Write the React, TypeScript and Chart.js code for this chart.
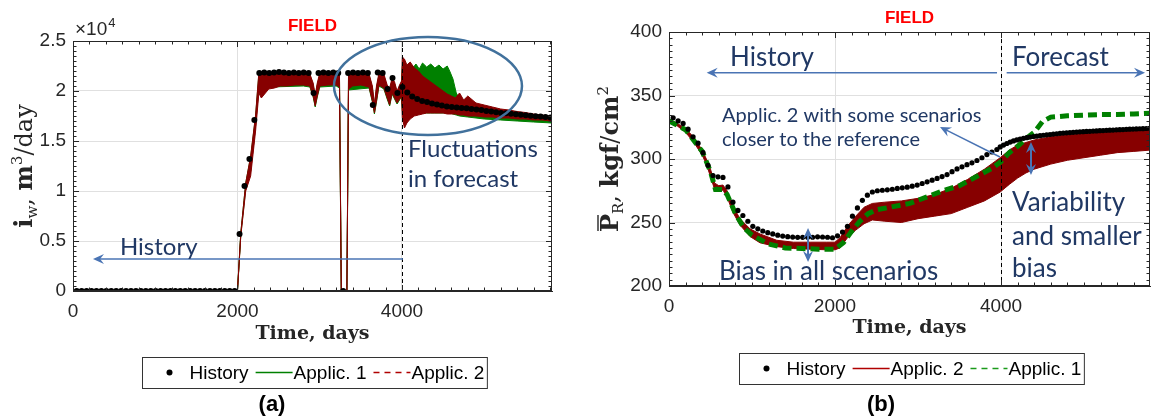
import React, { useEffect, useRef } from "react";
import { Chart, registerables } from "chart.js";

Chart.register(...registerables);

// ================= Panel (a): water injection rate (m3/day) =================
const A_X_TICKS = [0, 2000, 4000];
const A_X_LABELS = ["0", "2000", "4000"];
const A_Y_TICKS = [0, 5000, 10000, 15000, 20000, 25000];
const A_Y_LABELS = ["0", "0.5", "1", "1.5", "2", "2.5"];

const A_HIST_T = [
  45, 105, 165, 225, 285, 345, 405, 465, 525, 585, 645, 705, 765, 825, 885, 945, 1005, 1065, 1125, 1185,
  1245, 1305, 1365, 1425, 1485, 1545, 1605, 1665, 1725, 1785, 1845, 1905, 1965,
  2025, 2085, 2145, 2205, 2265,
  2325, 2385, 2445, 2505, 2565, 2625, 2685, 2745, 2805, 2865,
  2925,
  2985, 3045, 3105, 3165, 3225,
  3285,
  3345, 3405, 3465, 3525, 3585,
  3645,
  3705, 3765, 3825, 3885, 3945,
  4005, 4065, 4125, 4185, 4245, 4305, 4365, 4425, 4485, 4545, 4605, 4665, 4725, 4785, 4845, 4905, 4965,
  5025, 5085, 5145, 5205, 5265, 5325, 5385, 5445, 5505, 5565, 5625, 5685, 5745, 5805,
];
const A_HIST_V = [
  0, 0, 0, 0, 0, 0, 0, 0, 0, 0, 0, 0, 0, 0, 0, 0, 0, 0, 0, 0,
  0, 0, 0, 0, 0, 0, 0, 0, 0, 0, 0, 0, 0,
  5700, 10500, 13200, 17100, 21800,
  21850, 21800, 21850, 21900, 21850, 21800, 21850, 21800, 21850, 21800,
  19800,
  21800, 21850, 21800, 21850, 21800,
  0,
  21800, 21850, 21800, 21850, 21800,
  18600,
  21850, 21800, 20200, 21300, 19800,
  20400, 19850, 19450, 19200, 19000, 18900, 18750, 18650, 18550, 18450, 18400, 18350, 18300, 18270, 18200, 18150, 18100,
  18000, 17950, 17870, 17800, 17770, 17720, 17670, 17620, 17570, 17520, 17480, 17440, 17400, 17360,
];

// Applic. 2 (red) ensemble envelope
const A_APP2_T = [
  0, 1990, 2000, 2040, 2100, 2160, 2220, 2260, 2290, 2320, 2380, 2450, 2520, 2600, 2700, 2800, 2880, 2920, 2945, 2970,
  3000, 3100, 3200, 3240, 3262, 3330, 3350, 3400, 3500, 3600, 3640, 3665, 3690, 3720, 3780, 3820, 3850, 3880, 3910, 3940,
  3970, 3995, 4005, 4030, 4060, 4100, 4150, 4200, 4250, 4300, 4350, 4400, 4450, 4500, 4550, 4600, 4650, 4700, 4750, 4800,
  4900, 5000, 5100, 5200, 5300, 5400, 5500, 5600, 5700, 5824,
];
const A_APP2_HI = [
  0, 0, 100, 5800, 10800, 13500, 17600, 21900, 21900, 21900, 21900, 21800, 21900, 21800, 21900, 21800, 21700, 20800, 19600, 20800,
  21800, 21800, 21800, 21700, 0, 0, 21800, 21800, 21800, 21700, 20500, 18700, 20500, 21800, 21700, 20600, 20300, 21300, 20900, 20000,
  20600, 21000, 23400, 23200, 22600, 22900, 22300, 22000, 21500, 21200, 20900, 20600, 20300, 20000, 19700, 19500, 19300, 19800, 19100, 19500,
  18800, 18600, 18400, 18200, 18100, 17950, 17850, 17700, 17600, 17450,
];
const A_APP2_LO = [
  0, 0, 0, 5500, 10000, 11500, 16000, 19800, 19300, 19600, 20200, 20300, 20500, 20500, 20600, 20600, 20500, 19500, 18500, 19500,
  20500, 20600, 20600, 20400, 0, 0, 20200, 20500, 20600, 20400, 19000, 17800, 19000, 20600, 20300, 19300, 18600, 19800, 19300, 18800,
  19200, 19500, 17300, 16300, 16800, 17200, 17500, 17600, 17700, 17800, 17800, 17800, 17800, 17800, 17700, 17700, 17700, 17600, 17600, 17500,
  17500, 17400, 17400, 17300, 17300, 17200, 17200, 17100, 17100, 17000,
];

// Applic. 1 (green) ensemble envelope
const A_APP1_T = [
  0, 1990, 2000, 2040, 2100, 2160, 2220, 2260, 2400, 2800,
  2880, 2920, 2945, 2970, 3000, 3200, 3240, 3262, 3330, 3350,
  3600, 3640, 3665, 3690, 3720, 3780, 3820, 3850, 3880, 3910,
  3940, 3970, 3990, 4005, 4100, 4130, 4170, 4210, 4250, 4300,
  4350, 4400, 4450, 4500, 4550, 4580, 4620, 4660, 4700, 4800,
  4900, 5000, 5200, 5400, 5600, 5824,
];
const A_APP1_HI = [
  0, 0, 100, 5800, 10800, 13400, 17500, 21700, 21700, 21600,
  21600, 20600, 19400, 20600, 21600, 21600, 21600, 0, 0, 21600,
  21600, 20300, 18500, 20300, 21600, 21500, 20400, 20100, 21100, 20700,
  19800, 20400, 20500, 22500, 22000, 22300, 22700, 22200, 22800, 22400,
  22700, 22300, 22600, 22200, 22500, 22000, 21200, 19800, 19200, 18700,
  18400, 18200, 17900, 17700, 17500, 17350,
];
const A_APP1_LO = [
  0, 0, 0, 5600, 10200, 12000, 16500, 20400, 20400, 20500,
  20400, 19400, 18400, 19400, 20400, 20500, 20300, 0, 0, 20100,
  20300, 18900, 17700, 18900, 20500, 20200, 19200, 18500, 19700, 19200,
  18700, 19100, 19400, 18000, 17800, 17800, 17800, 17800, 17800, 17800,
  17800, 17800, 17800, 17800, 17800, 17800, 17700, 17600, 17500, 17400,
  17300, 17200, 17100, 17000, 16900, 16800,
];

// ================= Panel (b): average reservoir pressure (kgf/cm2) =================
const B_X_TICKS = [0, 2000, 4000];
const B_X_LABELS = ["0", "2000", "4000"];
const B_Y_TICKS = [200, 250, 300, 350, 400];
const B_Y_LABELS = ["200", "250", "300", "350", "400"];

const B_HIST_T = [
  50, 110, 170, 230, 290, 350, 410, 470, 530, 590, 650, 710, 770, 830, 890, 950, 1010, 1070, 1130, 1190,
  1250, 1310, 1370, 1430, 1490, 1550, 1610, 1670, 1730, 1790, 1850, 1910, 1970, 2030, 2090, 2150, 2210, 2270, 2330, 2390,
  2450, 2510, 2570, 2630, 2690, 2750, 2810, 2870, 2930, 2990, 3050, 3110, 3170, 3230, 3290, 3350, 3410, 3470, 3530, 3590,
  3650, 3710, 3770, 3830, 3890, 3950,
  3990, 4030, 4070, 4110, 4150, 4190, 4230, 4270, 4310, 4350, 4390, 4430, 4470, 4510, 4550, 4590, 4630, 4670, 4710, 4750,
  4790, 4830, 4870, 4910, 4950, 4990, 5030, 5070, 5110, 5150, 5190, 5230, 5270, 5310, 5350, 5390, 5430, 5470, 5510, 5550,
  5590, 5630, 5670, 5710, 5750, 5790,
];
const B_HIST_V = [
  332.5, 330, 328, 323.5, 317.5, 312.5, 305, 295, 287, 286, 285.5, 278, 266, 259.5, 255.5, 251, 247, 245, 243.3, 242,
  241, 240, 239.3, 238.8, 238.5, 238.3, 238.3, 238.3, 238.4, 238.7, 238.6, 238.4, 238, 239.5, 242.5, 247, 255, 261.5, 267.5, 271.5,
  274, 275, 275.4, 275.7, 276.2, 276.8, 277.3, 277.8, 278.6, 279.5, 280.7, 282, 283.3, 284.7, 286.2, 287.7, 290, 292.2, 293.8, 295.5,
  297, 298.8, 301, 303.5, 305.5, 307.5,
  309.5, 311, 312.2, 313.3, 314.2, 315, 315.7, 316.3, 316.8, 317.3, 317.7, 318, 318.4, 318.7, 319, 319.3, 319.6, 319.9, 320.2, 320.4,
  320.6, 320.8, 321, 321.2, 321.4, 321.5, 321.7, 321.8, 322, 322.1, 322.3, 322.4, 322.6, 322.7, 322.8, 323, 323.1, 323.2, 323.4, 323.5,
  323.6, 323.7, 323.8, 323.9, 324, 324.2,
];

// Applic. 2 (red) ensemble envelope
const B_APP2_T = [
  0, 100, 200, 300, 400, 450, 500, 550, 600, 650, 700, 770, 855, 976, 1096, 1298, 1500, 1700, 1900, 2000,
  2060, 2150, 2250, 2350, 2450, 2600, 2800, 3000, 3200, 3400, 3600, 3800, 3990, 4100, 4200, 4300, 4400, 4600, 4800, 5000,
  5200, 5400, 5600, 5795,
];
const B_APP2_HI = [
  331, 328, 324, 317, 307, 300, 292, 281, 279, 279.5, 275, 263, 253, 245, 241, 236, 234.5, 234.5, 234.5, 234.5,
  238, 247, 255, 262, 265, 266, 267, 269, 272, 277, 284, 292, 301, 307, 311, 313, 315, 317.5, 319, 320,
  321, 322, 323, 323.5,
];
const B_APP2_LO = [
  329, 326, 321, 313, 303, 296, 286, 276, 275, 275.5, 270, 258, 248, 239, 234, 231, 229.5, 229, 228.5, 228.5,
  230, 238, 244, 249, 252, 251, 250, 253, 255, 257, 262, 267, 274, 280, 285, 289, 292, 296, 299, 301,
  303, 305, 306, 307,
];

// Applic. 1 (green dashed)
const B_APP1_T = [
  0, 200, 400, 500, 560, 650, 700, 800, 900, 1000, 1200, 1400, 1600, 1800, 2000, 2100, 2200, 2300, 2400, 2500,
  2700, 2900, 3100, 3300, 3500, 3700, 3900, 4000, 4100, 4200, 4300, 4400, 4500, 4600, 4800, 5000, 5200, 5400, 5600, 5795,
];
const B_APP1_V = [
  330, 323, 306, 290, 276, 276, 272, 257, 246, 240, 233, 230, 229.5, 229, 229, 234, 243, 251, 257, 260,
  262.5, 265, 270, 275, 279, 286, 293, 298, 305, 310, 316, 321, 329.5, 333, 334, 334.5, 335, 335, 335.5, 336,
];

// ================= styles =================
const RED = "#870000";
const GREEN = "#008000";
const AXIS = "#262626";
const GRID = "#e0e0e0";
const NOTE_TEXT = "#203864";
const NOTE_LINE = "#4a74b4";
const ELLIPSE = "#41719c";
const SANS = '"Liberation Sans", Arial, sans-serif';
const SERIF = '"DejaVu Serif", serif';
const NOTE_FONT = 'Lato, "Open Sans", sans-serif';

type Pt = { x: number; y: number };
const zip = (t: number[], v: number[]): Pt[] => {
  const n = Math.min(t.length, v.length);
  const out: Pt[] = [];
  for (let i = 0; i < n; i++) out.push({ x: t[i], y: v[i] });
  return out;
};

type Run = { t: string; font: string; dy?: number; overline?: boolean };
type LegendItem = { label: string; kind: "dot" | "line"; color: string; dash?: number[]; width?: number };
type Note =
  | { type: "text"; x: number; y: number; text: string; font: string }
  | { type: "arrow"; x1: number; y1: number; x2: number; y2: number; both?: boolean; lw?: number }
  | { type: "ellipse"; x: number; y: number; rx: number; ry: number };

type PanelCfg = {
  padTop: number;
  padRight: number;
  yAxisW: number;
  xAxisH: number;
  xMax: number;
  yMin: number;
  yMax: number;
  xTicks: number[];
  xLabels: string[];
  yTicks: number[];
  yLabels: string[];
  xMinor: number;
  yMinor: number;
  split: number;
  titleDy: number;
  yTitle: Run[];
  yTitleDx: number;
  xTitleDy: number;
  exponent: boolean;
  legend: LegendItem[];
  legendDy: number;
  panelLabel: string;
  panelLabelDx: number;
  panelLabelY: number;
  notes: Note[];
  datasets: any[];
};

function head(ctx: CanvasRenderingContext2D, x: number, y: number, a: number) {
  const L = 11, W = 5;
  const c = Math.cos(a), s = Math.sin(a);
  ctx.beginPath();
  ctx.moveTo(x, y);
  ctx.lineTo(x - L * c - W * s, y - L * s + W * c);
  ctx.lineTo(x - 0.65 * L * c, y - 0.65 * L * s);
  ctx.lineTo(x - L * c + W * s, y - L * s - W * c);
  ctx.closePath();
  ctx.fill();
}

function drawArrow(ctx: CanvasRenderingContext2D, x1: number, y1: number, x2: number, y2: number, both: boolean, lw: number) {
  const a = Math.atan2(y2 - y1, x2 - x1);
  const k = 11 * 0.6;
  ctx.save();
  ctx.strokeStyle = NOTE_LINE;
  ctx.fillStyle = NOTE_LINE;
  ctx.lineWidth = lw;
  ctx.beginPath();
  ctx.moveTo(both ? x1 + Math.cos(a) * k : x1, both ? y1 + Math.sin(a) * k : y1);
  ctx.lineTo(x2 - Math.cos(a) * k, y2 - Math.sin(a) * k);
  ctx.stroke();
  head(ctx, x2, y2, a);
  if (both) head(ctx, x1, y1, a + Math.PI);
  ctx.restore();
}

function drawRichRotated(ctx: CanvasRenderingContext2D, runs: Run[], cx: number, cy: number) {
  ctx.save();
  ctx.translate(cx, cy);
  ctx.rotate(-Math.PI / 2);
  ctx.fillStyle = AXIS;
  ctx.strokeStyle = AXIS;
  ctx.textBaseline = "alphabetic";
  ctx.textAlign = "left";
  const widths = runs.map((r) => {
    ctx.font = r.font;
    return ctx.measureText(r.t).width;
  });
  const total = widths.reduce((a, b) => a + b, 0);
  let x = -total / 2;
  const base = 8;
  runs.forEach((r, i) => {
    ctx.font = r.font;
    ctx.fillText(r.t, x, base + (r.dy || 0));
    if (r.overline) {
      ctx.lineWidth = 1.4;
      ctx.beginPath();
      ctx.moveTo(x + 1, base - 20);
      ctx.lineTo(x + widths[i] - 1, base - 20);
      ctx.stroke();
    }
    x += widths[i];
  });
  ctx.restore();
}

function drawLegend(ctx: CanvasRenderingContext2D, items: LegendItem[], cx: number, top: number) {
  ctx.save();
  ctx.font = `19px ${SANS}`;
  const H = 31;
  const parts = items.map((it) => {
    const tw = ctx.measureText(it.label).width;
    if (it.kind === "dot") return { it, pre: 16, m: 22, post: 9, tw };
    return { it, pre: 7, m: 37, post: 1, tw };
  });
  const total = parts.reduce((a, p) => a + p.pre + p.m + p.post + p.tw, 0) + 3;
  const left = Math.round(cx - total / 2) + 0.5;
  const midY = top + H / 2;
  ctx.strokeStyle = "#333";
  ctx.lineWidth = 1;
  ctx.strokeRect(left, top + 0.5, total, H);
  let x = left;
  parts.forEach((p) => {
    x += p.pre;
    if (p.it.kind === "dot") {
      ctx.fillStyle = "#000";
      ctx.beginPath();
      ctx.arc(x + p.m / 2, midY, 3, 0, Math.PI * 2);
      ctx.fill();
    } else {
      ctx.strokeStyle = p.it.color;
      ctx.lineWidth = p.it.width || 1.5;
      ctx.setLineDash(p.it.dash || []);
      ctx.beginPath();
      ctx.moveTo(x, midY);
      ctx.lineTo(x + p.m, midY);
      ctx.stroke();
      ctx.setLineDash([]);
    }
    x += p.m + p.post;
    ctx.fillStyle = "#000";
    ctx.textBaseline = "middle";
    ctx.textAlign = "left";
    ctx.fillText(p.it.label, x, midY + 1);
    x += p.tw;
  });
  ctx.restore();
}

function makeDecor(cfg: PanelCfg) {
  return {
    id: "panelDecor",
    afterDatasetsDraw(chart: any) {
      const { ctx, chartArea: ca, scales } = chart;
      const xs = scales.x, ys = scales.y;
      ctx.save();
      // forecast split line
      const px = Math.round(xs.getPixelForValue(cfg.split)) + 0.5;
      ctx.strokeStyle = "#000";
      ctx.lineWidth = 1;
      ctx.setLineDash([4, 3]);
      ctx.beginPath();
      ctx.moveTo(px, ca.top);
      ctx.lineTo(px, ca.bottom);
      ctx.stroke();
      ctx.setLineDash([]);
      // box
      ctx.strokeStyle = AXIS;
      ctx.strokeRect(Math.round(ca.left) + 0.5, Math.round(ca.top) + 0.5, Math.round(ca.right - ca.left) - 1, Math.round(ca.bottom - ca.top) - 1);
      // ticks (inward, on all four sides)
      ctx.beginPath();
      const nx = Math.floor(cfg.xMax / cfg.xMinor);
      for (let i = 0; i <= nx; i++) {
        const v = i * cfg.xMinor;
        const p = Math.round(xs.getPixelForValue(v)) + 0.5;
        const L = cfg.xTicks.includes(v) ? 6 : 3.5;
        ctx.moveTo(p, ca.bottom);
        ctx.lineTo(p, ca.bottom - L);
        ctx.moveTo(p, ca.top);
        ctx.lineTo(p, ca.top + L);
      }
      const ny = Math.round((cfg.yMax - cfg.yMin) / cfg.yMinor);
      for (let i = 0; i <= ny; i++) {
        const v = cfg.yMin + i * cfg.yMinor;
        const p = Math.round(ys.getPixelForValue(v)) + 0.5;
        const L = cfg.yTicks.includes(v) ? 6 : 3.5;
        ctx.moveTo(ca.left, p);
        ctx.lineTo(ca.left + L, p);
        ctx.moveTo(ca.right, p);
        ctx.lineTo(ca.right - L, p);
      }
      ctx.stroke();
      ctx.restore();
    },
    afterDraw(chart: any) {
      const { ctx, chartArea: ca, scales } = chart;
      const xs = scales.x, ys = scales.y;
      const X = (v: number) => xs.getPixelForValue(v);
      const Y = (v: number) => ys.getPixelForValue(v);
      ctx.save();
      // annotations
      cfg.notes.forEach((n) => {
        if (n.type === "text") {
          ctx.font = n.font;
          ctx.fillStyle = NOTE_TEXT;
          ctx.textAlign = "left";
          ctx.textBaseline = "middle";
          ctx.fillText(n.text, X(n.x), Y(n.y));
        } else if (n.type === "arrow") {
          drawArrow(ctx, X(n.x1), Y(n.y1), X(n.x2), Y(n.y2), !!n.both, n.lw || 1.5);
        } else {
          const cx = X(n.x), cy = Y(n.y);
          const rx = Math.abs(X(n.x + n.rx) - cx), ry = Math.abs(Y(n.y + n.ry) - cy);
          ctx.strokeStyle = ELLIPSE;
          ctx.lineWidth = 2.5;
          ctx.beginPath();
          ctx.ellipse(cx, cy, rx, ry, 0, 0, Math.PI * 2);
          ctx.stroke();
        }
      });
      const midX = (ca.left + ca.right) / 2;
      // title
      ctx.fillStyle = "#ff0000";
      ctx.font = `bold 17px ${SANS}`;
      ctx.textAlign = "center";
      ctx.textBaseline = "middle";
      ctx.fillText("FIELD", midX, ca.top + cfg.titleDy);
      // exponent
      if (cfg.exponent) {
        ctx.fillStyle = AXIS;
        ctx.textAlign = "left";
        ctx.textBaseline = "alphabetic";
        ctx.font = `19px ${SANS}`;
        const w = ctx.measureText("\u00d710").width;
        ctx.fillText("\u00d710", ca.left + 2, ca.top - 6);
        ctx.font = `13px ${SANS}`;
        ctx.fillText("4", ca.left + 3 + w, ca.top - 14);
      }
      // axis titles
      drawRichRotated(ctx, cfg.yTitle, ca.left + cfg.yTitleDx, (ca.top + ca.bottom) / 2);
      ctx.fillStyle = AXIS;
      ctx.font = `bold 19px ${SERIF}`;
      ctx.textAlign = "center";
      ctx.textBaseline = "middle";
      ctx.fillText("Time, days", midX, ca.bottom + cfg.xTitleDy);
      // legend
      drawLegend(ctx, cfg.legend, midX + 2, ca.bottom + cfg.legendDy);
      // panel label
      ctx.fillStyle = "#000";
      ctx.font = `bold 22px ${SANS}`;
      ctx.textAlign = "center";
      ctx.textBaseline = "middle";
      ctx.fillText(cfg.panelLabel, ca.left + cfg.panelLabelDx, cfg.panelLabelY);
      ctx.restore();
    },
  };
}

function buildConfig(cfg: PanelCfg): any {
  const tickFont = { family: "Liberation Sans", size: 19 };
  return {
    type: "line",
    data: { datasets: cfg.datasets },
    options: {
      animation: false,
      responsive: false,
      devicePixelRatio: 1,
      layout: { padding: { left: 0, right: cfg.padRight, top: cfg.padTop, bottom: 0 } },
      plugins: { legend: { display: false }, tooltip: { enabled: false }, title: { display: false } },
      elements: { line: { tension: 0 } },
      scales: {
        x: {
          type: "linear",
          min: 0,
          max: cfg.xMax,
          afterFit: (s: any) => {
            s.height = cfg.xAxisH;
          },
          afterBuildTicks: (s: any) => {
            s.ticks = cfg.xTicks.map((v) => ({ value: v }));
          },
          ticks: {
            autoSkip: false,
            maxRotation: 0,
            padding: 9,
            color: AXIS,
            font: tickFont,
            callback: (v: number) => cfg.xLabels[cfg.xTicks.indexOf(v)] ?? "",
          },
          grid: { color: GRID, drawTicks: false, lineWidth: 1 },
          border: { color: AXIS, width: 1 },
        },
        y: {
          type: "linear",
          min: cfg.yMin,
          max: cfg.yMax,
          afterFit: (s: any) => {
            s.width = cfg.yAxisW;
          },
          afterBuildTicks: (s: any) => {
            s.ticks = cfg.yTicks.map((v) => ({ value: v }));
          },
          ticks: {
            autoSkip: false,
            padding: 7,
            color: AXIS,
            font: tickFont,
            callback: (v: number) => cfg.yLabels[cfg.yTicks.indexOf(v)] ?? "",
          },
          grid: { color: GRID, drawTicks: false, lineWidth: 1 },
          border: { color: AXIS, width: 1 },
        },
      },
    },
    plugins: [makeDecor(cfg)],
  };
}

const bandLine = (label: string, data: Pt[], color: string, fill: any, order: number) => ({
  label,
  data,
  borderColor: color,
  backgroundColor: color,
  borderWidth: 1,
  pointRadius: 0,
  fill,
  order,
});

const PANEL_A: PanelCfg = {
  padTop: 41,
  padRight: 25,
  yAxisW: 73,
  xAxisH: 126,
  xMax: 5824,
  yMin: 0,
  yMax: 25000,
  xTicks: A_X_TICKS,
  xLabels: A_X_LABELS,
  yTicks: A_Y_TICKS,
  yLabels: A_Y_LABELS,
  xMinor: 200,
  yMinor: 500,
  split: 4000,
  titleDy: -15,
  yTitle: [
    { t: "i", font: `bold 24px ${SERIF}` },
    { t: "w", font: `15px ${SERIF}`, dy: 5 },
    { t: ", ", font: `24px ${SERIF}` },
    { t: "m", font: `bold 24px ${SERIF}` },
    { t: "3", font: `15px ${SERIF}`, dy: -10 },
    { t: "/day", font: `24px ${SERIF}` },
  ],
  yTitleDx: -49,
  xTitleDy: 43,
  exponent: true,
  legend: [
    { label: "History", kind: "dot", color: "#000" },
    { label: "Applic. 1", kind: "line", color: GREEN },
    { label: "Applic. 2", kind: "line", color: "#b00000", dash: [6, 5] },
  ],
  legendDy: 66,
  panelLabel: "(a)",
  panelLabelDx: 199,
  panelLabelY: 405,
  notes: [
    { type: "ellipse", x: 4316, y: 20500, rx: 1143, ry: 4900 },
    { type: "arrow", x1: 4012, y1: 3200, x2: 243, y2: 3200, lw: 1.5 },
    { type: "text", x: 571, y: 4400, text: "History", font: `24px ${NOTE_FONT}` },
    { type: "text", x: 4073, y: 14200, text: "Fluctuations", font: `24px ${NOTE_FONT}` },
    { type: "text", x: 4073, y: 11200, text: "in forecast", font: `24px ${NOTE_FONT}` },
  ],
  datasets: [
    {
      label: "History",
      data: zip(A_HIST_T, A_HIST_V),
      showLine: false,
      pointRadius: 3,
      pointBackgroundColor: "#000",
      pointBorderWidth: 0,
      order: 0,
    },
    bandLine("Applic. 2", zip(A_APP2_T, A_APP2_HI), RED, "+1", 1),
    bandLine("Applic. 2 (low)", zip(A_APP2_T, A_APP2_LO), RED, false, 1),
    bandLine("Applic. 1", zip(A_APP1_T, A_APP1_HI), GREEN, "+1", 2),
    bandLine("Applic. 1 (low)", zip(A_APP1_T, A_APP1_LO), GREEN, false, 2),
  ],
};

const PANEL_B: PanelCfg = {
  padTop: 32,
  padRight: 4,
  yAxisW: 92,
  xAxisH: 131,
  xMax: 5795,
  yMin: 200,
  yMax: 400,
  xTicks: B_X_TICKS,
  xLabels: B_X_LABELS,
  yTicks: B_Y_TICKS,
  yLabels: B_Y_LABELS,
  xMinor: 200,
  yMinor: 5,
  split: 4000,
  titleDy: -14,
  yTitle: [
    { t: "P", font: `bold 24px ${SERIF}`, overline: true },
    { t: "R", font: `15px ${SERIF}`, dy: 5 },
    { t: ", ", font: `24px ${SERIF}` },
    { t: "kgf", font: `bold 24px ${SERIF}` },
    { t: "/", font: `24px ${SERIF}` },
    { t: "cm", font: `bold 24px ${SERIF}` },
    { t: "2", font: `15px ${SERIF}`, dy: -10 },
  ],
  yTitleDx: -59,
  xTitleDy: 42,
  exponent: false,
  legend: [
    { label: "History", kind: "dot", color: "#000" },
    { label: "Applic. 2", kind: "line", color: "#b00000" },
    { label: "Applic. 1", kind: "line", color: "#1a9a1a", dash: [6, 5] },
  ],
  legendDy: 67,
  panelLabel: "(b)",
  panelLabelDx: 212,
  panelLabelY: 405,
  notes: [
    { type: "text", x: 735, y: 379.5, text: "History", font: `26px ${NOTE_FONT}` },
    { type: "arrow", x1: 3952, y1: 368, x2: 454, y2: 368, lw: 1.5 },
    { type: "text", x: 4133, y: 379.5, text: "Forecast", font: `26px ${NOTE_FONT}` },
    { type: "arrow", x1: 4068, y1: 368, x2: 5735, y2: 368, lw: 1.5 },
    { type: "text", x: 639, y: 334.6, text: "Applic. 2 with some scenarios", font: `20px ${NOTE_FONT}` },
    { type: "text", x: 639, y: 315.7, text: "closer to the reference", font: `20px ${NOTE_FONT}` },
    { type: "arrow", x1: 3988, y1: 301.6, x2: 3265, y2: 325.2, lw: 1.5 },
    { type: "arrow", x1: 1675, y1: 245.7, x2: 1675, y2: 218.9, both: true, lw: 2 },
    { type: "text", x: 602, y: 211, text: "Bias in all scenarios", font: `26px ${NOTE_FONT}` },
    { type: "arrow", x1: 4361, y1: 313.4, x2: 4361, y2: 287.4, both: true, lw: 2 },
    { type: "text", x: 4133, y: 265.4, text: "Variability", font: `26px ${NOTE_FONT}` },
    { type: "text", x: 4133, y: 238.6, text: "and smaller", font: `26px ${NOTE_FONT}` },
    { type: "text", x: 4133, y: 213.4, text: "bias", font: `26px ${NOTE_FONT}` },
  ],
  datasets: [
    {
      label: "History",
      data: zip(B_HIST_T, B_HIST_V),
      showLine: false,
      pointRadius: 2.6,
      pointBackgroundColor: "#000",
      pointBorderWidth: 0,
      order: 0,
    },
    {
      label: "Applic. 1",
      data: zip(B_APP1_T, B_APP1_V),
      borderColor: GREEN,
      borderWidth: 5,
      borderDash: [9, 5],
      pointRadius: 0,
      fill: false,
      order: 1,
    },
    bandLine("Applic. 2", zip(B_APP2_T, B_APP2_HI), RED, "+1", 2),
    bandLine("Applic. 2 (low)", zip(B_APP2_T, B_APP2_LO), RED, false, 2),
  ],
};

function Panel({ cfg, left }: { cfg: PanelCfg; left: number }) {
  const ref = useRef<HTMLCanvasElement>(null);
  useEffect(() => {
    if (!ref.current) return;
    const chart = new Chart(ref.current, buildConfig(cfg));
    return () => chart.destroy();
  }, [cfg]);
  return (
    <canvas
      ref={ref}
      width={577}
      height={417}
      style={{ position: "absolute", left, top: 0, width: 577, height: 417 }}
    />
  );
}

export default function App() {
  return (
    <div style={{ position: "fixed", left: 0, top: 0, width: 1154, height: 417, background: "#fff", overflow: "hidden" }}>
      <Panel cfg={PANEL_A} left={0} />
      <Panel cfg={PANEL_B} left={577} />
    </div>
  );
}
